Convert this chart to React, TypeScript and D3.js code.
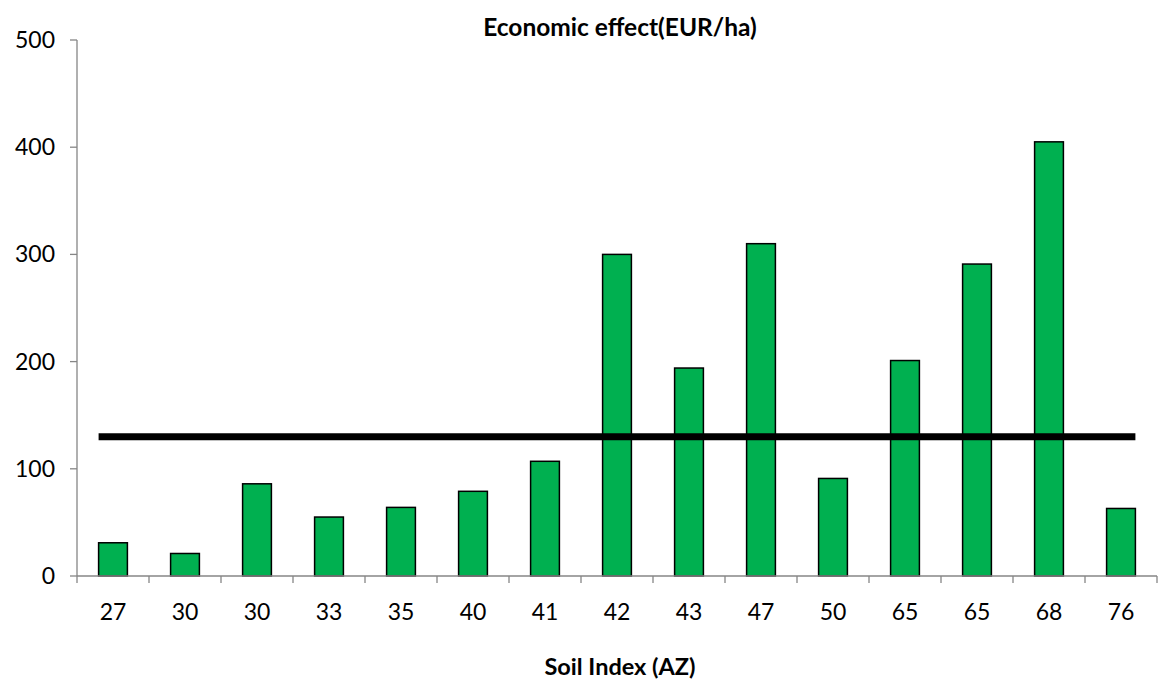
import React, { useEffect, useRef } from 'react';
import * as d3 from 'd3';

const categories = ['27', '30', '30', '33', '35', '40', '41', '42', '43', '47', '50', '65', '65', '68', '76'];
const effectValues = [31, 21, 86, 55, 64, 79, 107, 300, 194, 310, 91, 201, 291, 405, 63];
const averageValue = 130;
const yTicks = [0, 100, 200, 300, 400, 500];

export default function App() {
  const svgRef = useRef<SVGSVGElement>(null);

  useEffect(() => {
    if (!svgRef.current) return;
    const svg = d3.select(svgRef.current);
    svg.selectAll('*').remove();

    const W = 1164;
    const H = 679;
    const margin = { top: 40, right: 7, bottom: 103, left: 77 };
    const width = W - margin.left - margin.right;
    const height = H - margin.top - margin.bottom;
    const font = 'Lato, "Open Sans", sans-serif';

    const g = svg.append('g').attr('transform', `translate(${margin.left},${margin.top})`);

    const idx = categories.map((_, i) => String(i));
    const x = d3.scaleBand().domain(idx).range([0, width]).paddingInner(0.6).paddingOuter(0.3);
    const y = d3.scaleLinear().domain([0, 500]).range([height, 0]);
    const step = x.step();

    // bars
    g.selectAll('.bar')
      .data(effectValues)
      .enter()
      .append('rect')
      .attr('x', (_, i) => x(String(i)) || 0)
      .attr('y', (d) => y(d))
      .attr('width', x.bandwidth())
      .attr('height', (d) => height - y(d))
      .attr('fill', '#00B050')
      .attr('stroke', '#000')
      .attr('stroke-width', 1.5);

    // average line
    const x0 = x('0') || 0;
    const x1 = (x(String(categories.length - 1)) || 0) + x.bandwidth();
    g.append('line')
      .attr('x1', x0)
      .attr('x2', x1)
      .attr('y1', y(averageValue))
      .attr('y2', y(averageValue))
      .attr('stroke', '#000')
      .attr('stroke-width', 7);

    // y axis
    const axisColor = '#868686';
    g.append('line')
      .attr('x1', 0).attr('x2', 0)
      .attr('y1', 0).attr('y2', height)
      .attr('stroke', axisColor).attr('stroke-width', 1.3);
    yTicks.forEach((t) => {
      g.append('line')
        .attr('x1', -7).attr('x2', 0)
        .attr('y1', y(t)).attr('y2', y(t))
        .attr('stroke', axisColor).attr('stroke-width', 1.3);
      g.append('text')
        .attr('x', -22)
        .attr('y', y(t))
        .attr('dy', '0.35em')
        .attr('text-anchor', 'end')
        .style('font-family', font)
        .style('font-size', '23px')
        .style('fill', '#000')
        .text(t);
    });

    // x axis
    g.append('line')
      .attr('x1', 0).attr('x2', width)
      .attr('y1', height).attr('y2', height)
      .attr('stroke', axisColor).attr('stroke-width', 1.3);
    d3.range(categories.length + 1).forEach((i) => {
      g.append('line')
        .attr('x1', i * step).attr('x2', i * step)
        .attr('y1', height).attr('y2', height + 7)
        .attr('stroke', axisColor).attr('stroke-width', 1.3);
    });
    categories.forEach((c, i) => {
      g.append('text')
        .attr('x', (x(String(i)) || 0) + x.bandwidth() / 2)
        .attr('y', height + 36)
        .attr('dy', '0.35em')
        .attr('text-anchor', 'middle')
        .style('font-family', font)
        .style('font-size', '23px')
        .style('fill', '#000')
        .text(c);
    });

    // titles
    svg.append('text')
      .attr('x', 620)
      .attr('y', 27)
      .attr('dy', '0.35em')
      .attr('text-anchor', 'middle')
      .style('font-family', font)
      .style('font-size', '24.5px')
      .style('font-weight', 'bold')
      .text('Economic effect(EUR/ha)');

    svg.append('text')
      .attr('x', 620)
      .attr('y', 667)
      .attr('dy', '0.35em')
      .attr('text-anchor', 'middle')
      .style('font-family', font)
      .style('font-size', '23.5px')
      .style('font-weight', 'bold')
      .text('Soil Index (AZ)');
  }, []);

  return (
    <svg
      ref={svgRef}
      width={1164}
      height={679}
      style={{ position: 'absolute', left: 0, top: 0, background: '#fff' }}
    />
  );
}
